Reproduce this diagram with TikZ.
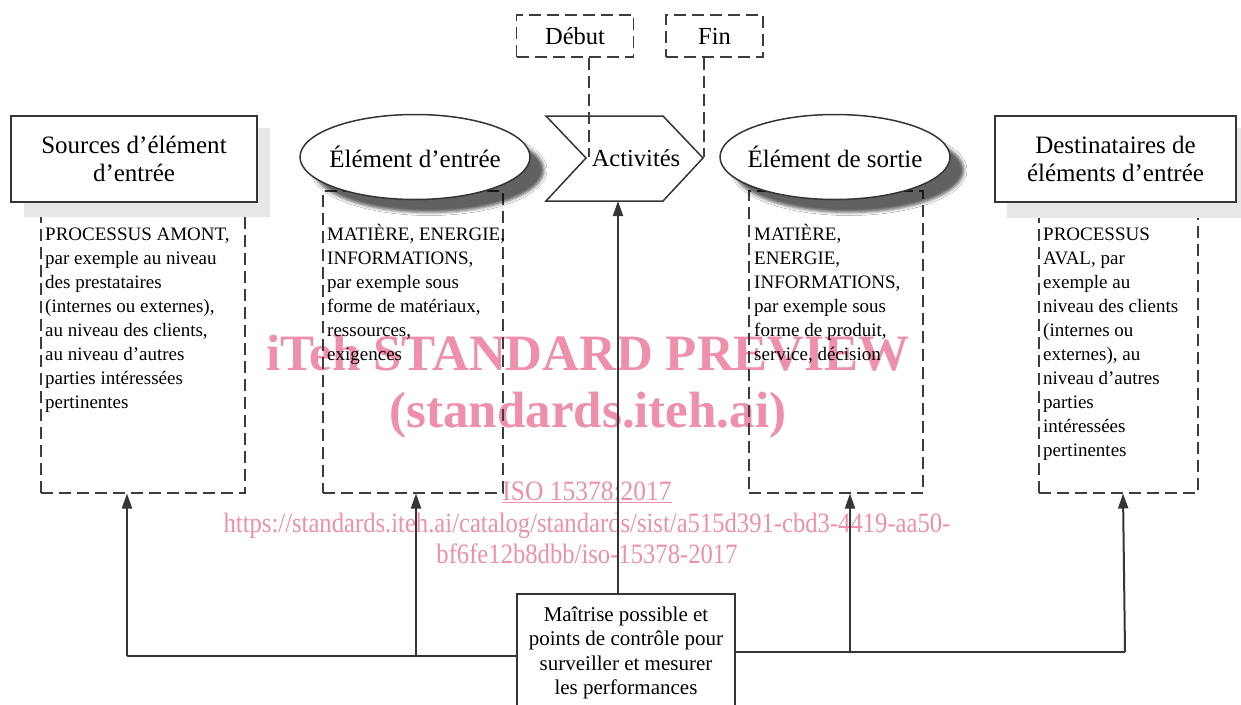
\documentclass[tikz,border=0pt]{standalone}
\usepackage{fontspec}
\setmainfont{Liberation Serif}
\usetikzlibrary{arrows.meta,shapes.geometric,shadows.blur}
\definecolor{ln}{HTML}{333538}
\definecolor{dl}{HTML}{3C3D3F}
\definecolor{lshadow}{HTML}{E6E7E8}
\definecolor{wm}{HTML}{EE8FAB}
\begin{document}
\begin{tikzpicture}[x=1pt,y=-1pt,
  outl/.style={draw=ln,line width=1.5pt},
  dashbox/.style={draw=dl,line width=1.5pt,dash pattern=on 12pt off 6pt},
  dashline/.style={draw=dl,line width=1.5pt,dash pattern=on 12pt off 6pt},
  conn/.style={draw=ln,line width=2pt},
  arr/.style={conn,-{Triangle[length=15pt,width=10pt]}},
  bodytext/.style={anchor=north west,align=left,inner sep=0pt,font=\fontsize{19}{24}\selectfont},
  titlefont/.style={font=\fontsize{25}{28}\selectfont},
  smallfont/.style={font=\fontsize{24.5}{26}\selectfont},
  wmtext/.style={text=wm,inner sep=0pt,anchor=base},
  eshadow/.style={blur shadow={shadow xshift=14pt,shadow yshift=-13pt,shadow blur radius=3pt,shadow opacity=62}},
  ell/.style={outl,ellipse,fill=white,minimum width=230,minimum height=85,inner xsep=-8pt,inner ysep=0pt,eshadow,titlefont}
]
\useasboundingbox (0,0) rectangle (1241,704);
\clip (0,0) rectangle (1241,704);
\fill[white] (0,0) rectangle (1241,704);

% watermark
\node[wmtext,font=\fontsize{51}{58}\selectfont\bfseries] (wm1) at (588,370) {iTeh STANDARD PREVIEW};
\node[wmtext,font=\fontsize{51}{58}\selectfont\bfseries] (wm2) at (588,427) {(standards.iteh.ai)};
\node[wmtext,font=\fontsize{28}{30}\selectfont] (wm3) at (587,500) {\scalebox{0.91}[1]{\underline{ISO 15378:2017}}};
\node[wmtext,font=\fontsize{28}{30}\selectfont] (wm4) at (587,532) {\scalebox{0.88}[1]{https://standards.iteh.ai/catalog/standards/sist/a515d391-cbd3-4419-aa50-}};
\node[wmtext,font=\fontsize{28}{30}\selectfont] (wm5) at (587,563) {\scalebox{0.88}[1]{bf6fe12b8dbb/iso-15378-2017}};

% dashed boxes
\node[dashbox,minimum width=204,minimum height=279,anchor=north west,inner sep=0pt] (b1) at (40,213) {};
\node[dashbox,minimum width=180,minimum height=302,anchor=north west,inner sep=0pt] (b2) at (322,190) {};
\node[dashbox,minimum width=174,minimum height=302,anchor=north west,inner sep=0pt] (b3) at (748,190) {};
\node[dashbox,minimum width=159,minimum height=279,anchor=north west,inner sep=0pt] (b4) at (1038,213) {};

\node[bodytext] (t1) at (45,223) {\strut PROCESSUS AMONT,\\par exemple au niveau\\des prestataires\\(internes ou externes),\\au niveau des clients,\\au niveau d’autres\\parties intéressées\\pertinentes};
\node[bodytext] (t2) at (327,223) {\strut MATIÈRE, ENERGIE,\\INFORMATIONS,\\par exemple sous\\forme de matériaux,\\ressources,\\exigences};
\node[bodytext] (t3) at (754,223) {\strut MATIÈRE,\\ENERGIE,\\INFORMATIONS,\\par exemple sous\\forme de produit,\\service, décision};
\node[bodytext] (t4) at (1043,223) {\strut PROCESSUS\\AVAL, par\\exemple au\\niveau des clients\\(internes ou\\externes), au\\niveau d’autres\\parties\\intéressées\\pertinentes};

% light shadows
\fill[lshadow] (24,128) rectangle (270,217);
\fill[lshadow] (1007,128) rectangle (1250,218);

\node[outl,fill=white,minimum width=246,minimum height=86,align=center,titlefont] (src) at (134,159) {Sources d’élément\\d’entrée};
\node[outl,fill=white,minimum width=241,minimum height=86,align=center,titlefont] (dst) at (1115.5,159) {Destinataires de\\éléments d’entrée};

% ellipses
\node[ell] (in) at (415,157) {Élément d’entrée};
\node[ell] (out) at (835,157) {Élément de sortie};

% activities chevron
\draw[outl,fill=white] (546,116) -- (663,116) -- (703,158) -- (663,201) -- (546,201) -- (586,158) -- cycle;
\node[smallfont,inner sep=0pt] (act) at (636,158) {Activités};
\coordinate (actb) at (618,201);
\coordinate (tip) at (704,157);
\coordinate (notch) at (589,157);

% start / end
\node[dashbox,minimum width=117,minimum height=42,smallfont] (deb) at (575,36) {Début};
\node[dashbox,minimum width=97,minimum height=42,smallfont] (fin) at (714.5,36) {Fin};
\draw[dashline] (deb.south -| notch) -- (notch);
\draw[dashline] (fin.south -| tip) -- (tip);

% control box
\node[outl,fill=white,minimum width=218,minimum height=130,anchor=north] (ctrl) at (626,593) {};
\node[anchor=north,align=center,inner sep=0pt,font=\fontsize{21}{24.5}\selectfont] (ctrltext) at (626,604) {\strut Maîtrise possible et\\points de contrôle pour\\surveiller et mesurer\\les performances};

% connectors
\coordinate (j1) at (127,656);
\coordinate (j2) at (416,656);
\coordinate (j3) at (850,652);
\coordinate (j4) at (1125,652);
\draw[conn] (ctrl.west |- j1) -- (j1);
\draw[arr] (j1) -- (j1 |- b1.south);
\draw[arr] (j2) -- (j2 |- b2.south);
\draw[conn] (ctrl.east |- j3) -- (j4);
\draw[arr] (j3) -- (j3 |- b3.south);
\draw[arr] (j4) -- ([xshift=-2pt]j4 |- b4.south);
\draw[arr] ([xshift=-8pt]ctrl.north) -- (actb);
\end{tikzpicture}
\end{document}
